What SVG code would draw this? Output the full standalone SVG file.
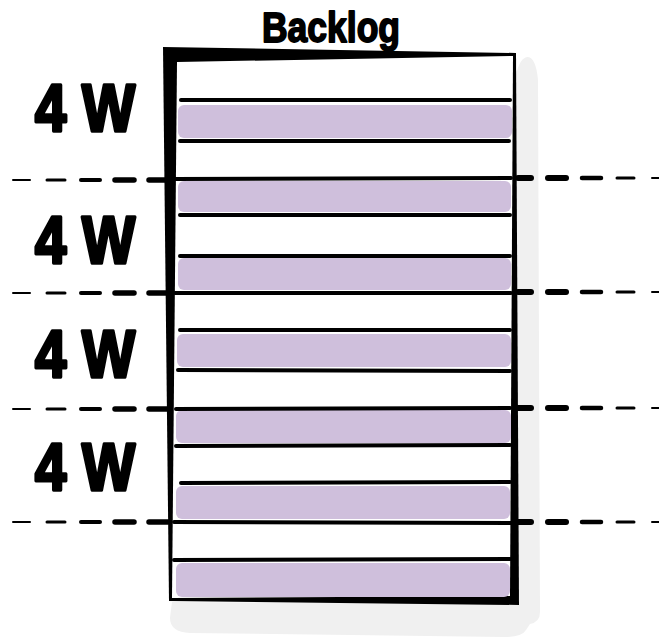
<svg xmlns="http://www.w3.org/2000/svg" width="659" height="639" viewBox="0 0 659 639">
  <style>
    .lbl { font-family: "Liberation Sans", "DejaVu Sans", sans-serif; font-weight: bold; fill: #000; stroke: #000; stroke-linejoin: round; }
    .big { stroke-width: 3.5; }
    .ttl { stroke-width: 1.8; }
    .row { stroke: #000; stroke-width: 4; stroke-linecap: round; fill: none; }
    .bar { fill: #cfbfdc; }
    .d1 { stroke: #000; stroke-linecap: round; fill: none; }
  </style>
  <rect width="659" height="639" fill="#fff"/>
  <g id="shadow">
    <path d="M516 75 Q520 57 528 57 Q536 58 538 80 L540 612 Q540 622 530 624 L526 630 Q522 637 505 637 L190 633 Q170 632 170 618 L172 602 L516 604 Z" fill="#f0f0f0"/>
  </g>
  <g id="backlog-box">
    <polygon points="163,47 516,53 519,605 169,601" fill="#000"/>
    <polygon points="177,62 513,56 510,596 172,598" fill="#fff"/>
  </g>
  <g id="items">
    <rect class="bar" x="178" y="105" width="334" height="33" rx="6"/>
    <rect class="bar" x="178" y="181" width="333" height="31" rx="6"/>
    <rect class="bar" x="178" y="258" width="333" height="32" rx="6"/>
    <rect class="bar" x="177" y="334" width="334" height="33" rx="6"/>
    <rect class="bar" x="176" y="410" width="335" height="33" rx="6"/>
    <rect class="bar" x="176" y="486" width="334" height="33" rx="6"/>
    <rect class="bar" x="176" y="563" width="334" height="34" rx="6"/>
    <line class="row" x1="181" y1="100" x2="510" y2="100"/>
    <line class="row" x1="180" y1="141" x2="509" y2="141"/>
    <line class="row" x1="175" y1="179" x2="511" y2="178"/>
    <line class="row" x1="180" y1="215" x2="510" y2="215"/>
    <line class="row" x1="180" y1="256" x2="510" y2="256"/>
    <line class="row" x1="175" y1="293" x2="511" y2="293"/>
    <line class="row" x1="180" y1="330" x2="510" y2="330"/>
    <line class="row" x1="178" y1="370" x2="510" y2="371"/>
    <line class="row" x1="176" y1="409" x2="510" y2="408" stroke-width="2"/>
    <line class="row" x1="176" y1="446" x2="510" y2="445"/>
    <line class="row" x1="181" y1="483" x2="510" y2="482"/>
    <line class="row" x1="174" y1="522" x2="512" y2="523"/>
    <line class="row" x1="174" y1="560" x2="510" y2="559" stroke-width="3"/>
  </g>
  <g id="title">
    <text class="lbl ttl" x="262" y="42" font-size="42" textLength="138" lengthAdjust="spacingAndGlyphs">Backlog</text>
  </g>
  <g id="labels">
    <text class="lbl big" x="35" y="131" font-size="67" textLength="100" lengthAdjust="spacingAndGlyphs">4 W</text>
    <text class="lbl big" x="35" y="263" font-size="67" textLength="100" lengthAdjust="spacingAndGlyphs">4 W</text>
    <text class="lbl big" x="35" y="377" font-size="67" textLength="100" lengthAdjust="spacingAndGlyphs">4 W</text>
    <text class="lbl big" x="35" y="490" font-size="67" textLength="100" lengthAdjust="spacingAndGlyphs">4 W</text>
  </g>
  <g id="connectors">
    <defs>
      <g id="divL">
        <line class="d1" x1="13" y1="0" x2="30" y2="0" stroke-width="2"/>
        <line class="d1" x1="47" y1="0" x2="65" y2="0" stroke-width="3"/>
        <line class="d1" x1="81" y1="0" x2="100" y2="0" stroke-width="4"/>
        <line class="d1" x1="115" y1="0" x2="134" y2="0" stroke-width="5.5"/>
        <line class="d1" x1="149" y1="0" x2="168" y2="0" stroke-width="5.5"/>
      </g>
      <g id="divR">
        <line class="d1" x1="518" y1="0" x2="531" y2="0" stroke-width="6"/>
        <line class="d1" x1="548" y1="0" x2="566" y2="0" stroke-width="6"/>
        <line class="d1" x1="582" y1="0" x2="601" y2="0" stroke-width="4.5"/>
        <line class="d1" x1="617" y1="0" x2="634" y2="0" stroke-width="3"/>
        <line class="d1" x1="652" y1="0" x2="659" y2="0" stroke-width="2"/>
      </g>
    </defs>
    <use href="#divL" y="180"/>
    <use href="#divR" y="178"/>
    <use href="#divL" y="293"/>
    <use href="#divR" y="292"/>
    <use href="#divL" y="409"/>
    <use href="#divR" y="408"/>
    <use href="#divL" y="522"/>
    <use href="#divR" y="522"/>
  </g>
</svg>
